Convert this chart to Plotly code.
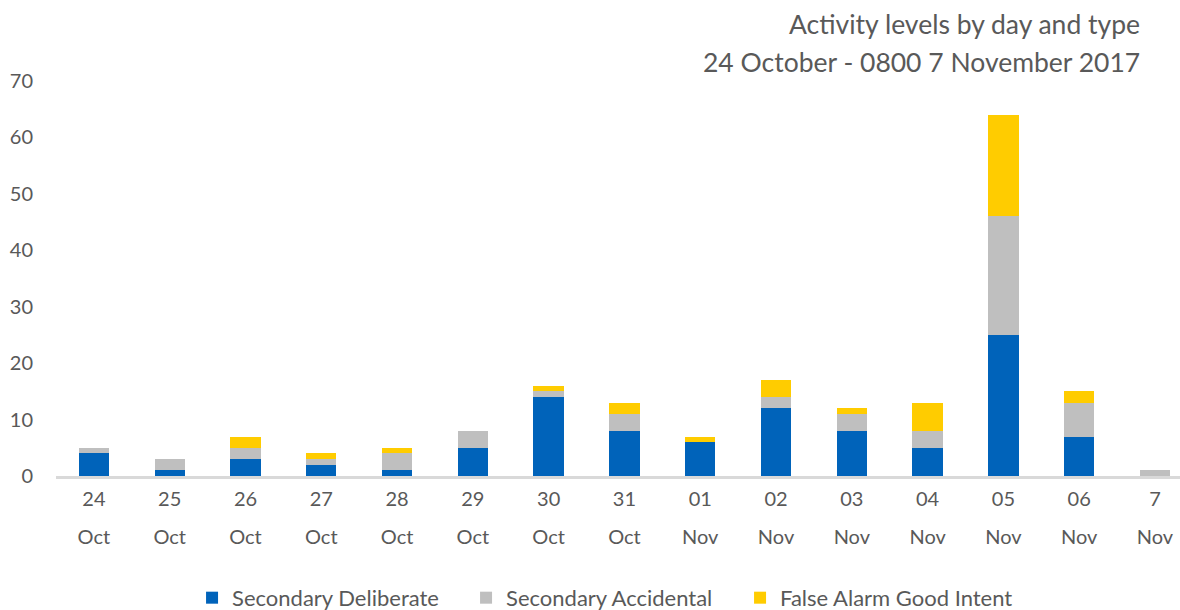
import plotly.graph_objects as go

categories = ["24 Oct", "25 Oct", "26 Oct", "27 Oct", "28 Oct", "29 Oct", "30 Oct", "31 Oct",
              "01 Nov", "02 Nov", "03 Nov", "04 Nov", "05 Nov", "06 Nov", "7 Nov"]
day_labels = ["24", "25", "26", "27", "28", "29", "30", "31", "01", "02", "03", "04", "05", "06", "7"]
month_labels = ["Oct"] * 8 + ["Nov"] * 7
secondary_deliberate = [4, 1, 3, 2, 1, 5, 14, 8, 6, 12, 8, 5, 25, 7, 0]
secondary_accidental = [1, 2, 2, 1, 3, 3, 1, 3, 0, 2, 3, 3, 21, 6, 1]
false_alarm_good_intent = [0, 0, 2, 1, 1, 0, 1, 2, 1, 3, 1, 5, 18, 2, 0]
title_lines = ["Activity levels by day and type", "24 October - 0800 7 November 2017"]

FONT = "Lato, 'Open Sans', sans-serif"
GREY = "#595959"

fig = go.Figure()
for name, vals, col in [
    ("Secondary Deliberate", secondary_deliberate, "#0063BA"),
    ("Secondary Accidental", secondary_accidental, "#BFBFBF"),
    ("False Alarm Good Intent", false_alarm_good_intent, "#FFCC00"),
]:
    fig.add_trace(go.Bar(x=categories, y=vals, name=name, marker_color=col,
                         marker_line_width=0))

# helper (invisible) trace so the second label row of the x axis (months) is drawn
fig.add_trace(go.Scatter(x=list(range(len(categories))), y=[None] * len(categories),
                         xaxis="x2", mode="markers", showlegend=False, hoverinfo="skip"))

xr = [-0.5, 14.33]
fig.update_layout(
    barmode="stack",
    bargap=0.6,
    width=1180, height=610,
    margin=dict(l=56, r=0, t=81, b=134, autoexpand=False),
    paper_bgcolor="white", plot_bgcolor="white",
    font=dict(family=FONT, color=GREY, size=20),
    annotations=[
        dict(text=title_lines[0], xref="paper", yref="paper", x=0.9662, y=1.144,
             xanchor="right", yanchor="middle", showarrow=False,
             font=dict(family=FONT, size=26.5, color=GREY)),
        dict(text=title_lines[1], xref="paper", yref="paper", x=0.9662, y=1.048,
             xanchor="right", yanchor="middle", showarrow=False,
             font=dict(family=FONT, size=26.5, color=GREY)),
    ],
    legend=dict(orientation="h", x=0.4867, xanchor="center", y=-0.2554, yanchor="top",
                font=dict(size=22, color=GREY), traceorder="normal", entrywidth=229),
    xaxis=dict(type="category", range=xr, showline=True, linecolor="#D9D9D9", linewidth=3,
               ticks="", tickmode="array", tickvals=categories, ticktext=day_labels,
               tickfont=dict(size=20, color=GREY), ticklabelstandoff=3, automargin=False),
    xaxis2=dict(overlaying="x", side="bottom", range=xr, showline=False, showgrid=False,
                zeroline=False, ticks="", tickmode="array", tickvals=list(range(15)),
                ticktext=month_labels, tickfont=dict(size=20, color=GREY),
                ticklabelstandoff=47, automargin=False),
    yaxis=dict(range=[0, 70], dtick=10, showgrid=False, zeroline=False,
               tickfont=dict(size=20, color=GREY), ticklabelstandoff=22, automargin=False),
)

fig.write_html("out.html", config={"displayModeBar": False},
               post_script="document.body.style.margin='0';document.body.style.overflow='hidden';")
